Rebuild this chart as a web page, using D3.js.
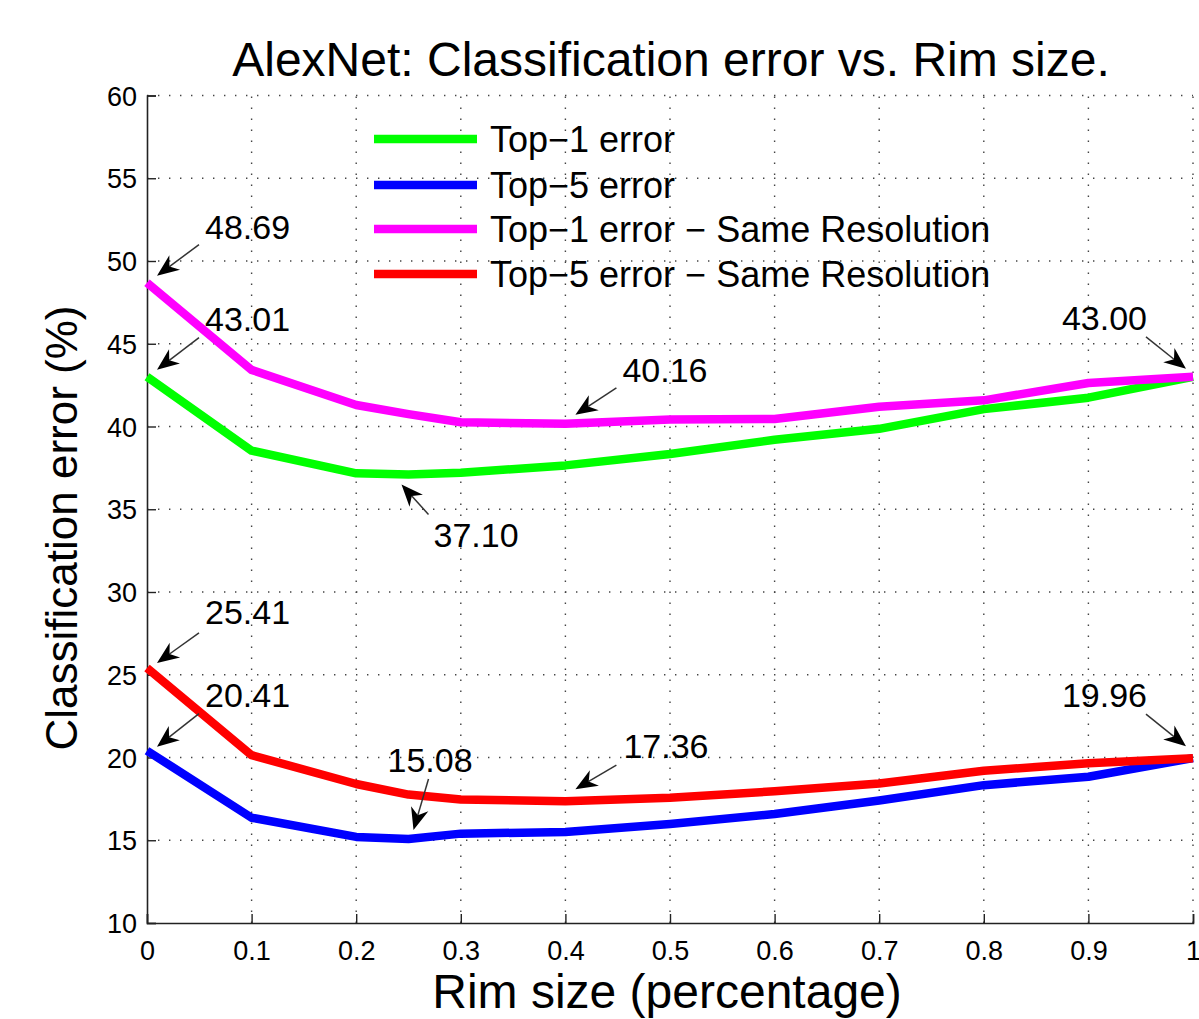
<!DOCTYPE html>
<html lang="en">
<head>
<meta charset="UTF-8">
<title>AlexNet: Classification error vs. Rim size.</title>
<script src="https://d3js.org/d3.v7.min.js"></script>
<style>
  body { margin: 0; padding: 0; background: #fff; overflow: hidden; }
  svg text { font-family: "Liberation Sans", Arial, Helvetica, sans-serif; fill: #000; }
  .grid line { stroke: #444; stroke-width: 1.4; stroke-dasharray: 1.4 9.6; }
</style>
</head>
<body>
<svg id="chart" width="1199" height="1019"></svg>
<script>
// rim sizes (x) and error values (%) for each curve
const rimSize = [0, 0.1, 0.2, 0.25, 0.3, 0.4, 0.5, 0.6, 0.7, 0.8, 0.9, 1.0];
const top1 = [43.01, 38.54, 37.17, 37.10, 37.20, 37.65, 38.34, 39.20, 39.86, 41.05, 41.74, 43.00];
const top5 = [20.41, 16.36, 15.20, 15.08, 15.40, 15.50, 15.98, 16.59, 17.40, 18.33, 18.84, 19.96];
const top1Same = [48.69, 43.42, 41.30, 40.75, 40.26, 40.16, 40.43, 40.45, 41.19, 41.58, 42.63, 43.00];
const top5Same = [25.41, 20.14, 18.40, 17.76, 17.46, 17.36, 17.57, 17.96, 18.43, 19.20, 19.65, 19.96];

const seriesNames = ["Top\u22121 error", "Top\u22125 error",
  "Top\u22121 error \u2212 Same Resolution", "Top\u22125 error \u2212 Same Resolution"];
const seriesValues = [top1, top5, top1Same, top5Same];

const xTicks = [0, 0.1, 0.2, 0.3, 0.4, 0.5, 0.6, 0.7, 0.8, 0.9, 1];
const yTicks = [10, 15, 20, 25, 30, 35, 40, 45, 50, 55, 60];

// annotated points: label, x, value
const noteLabels = ["48.69", "43.01", "40.16", "37.10", "43.00", "25.41", "20.41", "15.08", "17.36", "19.96"];
const noteX = [0, 0, 0.4, 0.25, 1, 0, 0, 0.25, 0.4, 1];
const noteY = [48.69, 43.01, 40.16, 37.10, 43.00, 25.41, 20.41, 15.08, 17.36, 19.96];

const colors = ["#00ff00", "#0000ff", "#ff00ff", "#ff0000"];

const svg = d3.select("#chart");
const x = d3.scaleLinear().domain([0, 1]).range([147, 1193]);
const y = d3.scaleLinear().domain([10, 60]).range([923, 95.5]);

// grid (dotted)
const grid = svg.append("g").attr("class", "grid");
grid.selectAll(".gx").data(xTicks.filter(d => d > 0)).enter().append("line")
  .attr("x1", d => x(d)).attr("x2", d => x(d))
  .attr("y1", y(10)).attr("y2", y(60));
grid.selectAll(".gy").data(yTicks.filter(d => d > 10)).enter().append("line")
  .attr("y1", d => y(d)).attr("y2", d => y(d))
  .attr("x1", x(0)).attr("x2", x(1));

// axes
const xAxis = svg.append("g").attr("transform", `translate(0,${y(10)})`)
  .call(d3.axisBottom(x).tickValues(xTicks).tickSize(-9).tickPadding(18)
    .tickFormat(d => d === 0 || d === 1 ? String(d) : d3.format(".1f")(d)));
const yAxis = svg.append("g").attr("transform", `translate(${x(0)},0)`)
  .call(d3.axisLeft(y).tickValues(yTicks).tickSize(-9).tickPadding(10));
[xAxis, yAxis].forEach(a => {
  a.select(".domain").attr("stroke", "#222").attr("stroke-width", 1.6);
  a.selectAll(".tick line").attr("stroke", "#222").attr("stroke-width", 1.4);
  a.selectAll(".tick text").attr("font-size", 27).attr("font-family", null);
});
xAxis.selectAll(".tick text").attr("dy", "0.71em");
yAxis.selectAll(".tick text").attr("dy", "0.36em");

// series lines
const line = d3.line().x((d, i) => x(rimSize[i])).y(d => y(d));
svg.append("g").selectAll("path").data(seriesValues).enter().append("path")
  .attr("d", line)
  .attr("fill", "none")
  .attr("stroke", (d, i) => colors[i])
  .attr("stroke-width", 8.5)
  .attr("stroke-linejoin", "round");

// legend
const legend = svg.append("g");
const legY = [139, 185, 229, 274];
seriesNames.forEach((name, i) => {
  legend.append("line").attr("x1", 374).attr("x2", 477)
    .attr("y1", legY[i]).attr("y2", legY[i])
    .attr("stroke", colors[i]).attr("stroke-width", 8.5);
  legend.append("text").attr("x", 490).attr("y", legY[i]).attr("dy", "0.36em")
    .attr("font-size", 36).text(name);
});

// annotations: offsets from the point (tip, tail, text)
const noteLayout = [
  { tip: [10, -7], tail: [52, -38], txt: [58, -44], anchor: "start" },
  { tip: [10, -7], tail: [52, -39], txt: [58, -46], anchor: "start" },
  { tip: [10, -9], tail: [51, -36], txt: [57, -42], anchor: "start" },
  { tip: [-7, 10], tail: [20, 40], txt: [25, 73], anchor: "start" },
  { tip: [-7, -8], tail: [-47, -40], txt: [-46, -47], anchor: "end" },
  { tip: [10, -5], tail: [52, -35], txt: [58, -44], anchor: "start" },
  { tip: [10, -4], tail: [52, -37], txt: [58, -44], anchor: "start" },
  { tip: [5, -9], tail: [20, -60], txt: [-21, -67], anchor: "start" },
  { tip: [10, -12], tail: [51, -36], txt: [58, -43], anchor: "start" },
  { tip: [-7, -12], tail: [-47, -44], txt: [-46, -51], anchor: "end" }
];
const notes = svg.append("g");
noteLabels.forEach((lab, i) => {
  const px = x(noteX[i]), py = y(noteY[i]);
  const L = noteLayout[i];
  const tx = px + L.tip[0], ty = py + L.tip[1];
  const sx = px + L.tail[0], sy = py + L.tail[1];
  const len = Math.hypot(tx - sx, ty - sy);
  const ux = (tx - sx) / len, uy = (ty - sy) / len;
  const hl = 22, hw = 9;
  const bx = tx - ux * hl, by = ty - uy * hl;
  const nx = tx - ux * hl * 0.7, ny = ty - uy * hl * 0.7;
  notes.append("line").attr("x1", sx).attr("y1", sy).attr("x2", nx).attr("y2", ny)
    .attr("stroke", "#333").attr("stroke-width", 1.5);
  notes.append("path")
    .attr("d", `M${tx},${ty}L${bx - uy * hw},${by + ux * hw}L${nx},${ny}L${bx + uy * hw},${by - ux * hw}Z`)
    .attr("fill", "#000");
  notes.append("text").attr("x", px + L.txt[0]).attr("y", py + L.txt[1])
    .attr("text-anchor", L.anchor).attr("font-size", 34).text(lab);
});

// title and axis labels
svg.append("text").attr("x", 671).attr("y", 76).attr("text-anchor", "middle")
  .attr("font-size", 48).text("AlexNet: Classification error vs. Rim size.");
svg.append("text").attr("x", 667).attr("y", 1008).attr("text-anchor", "middle")
  .attr("font-size", 48).text("Rim size (percentage)");
svg.append("text").attr("transform", "translate(77,528) rotate(-90)")
  .attr("text-anchor", "middle").attr("font-size", 44).text("Classification error (%)");
</script>
</body>
</html>
